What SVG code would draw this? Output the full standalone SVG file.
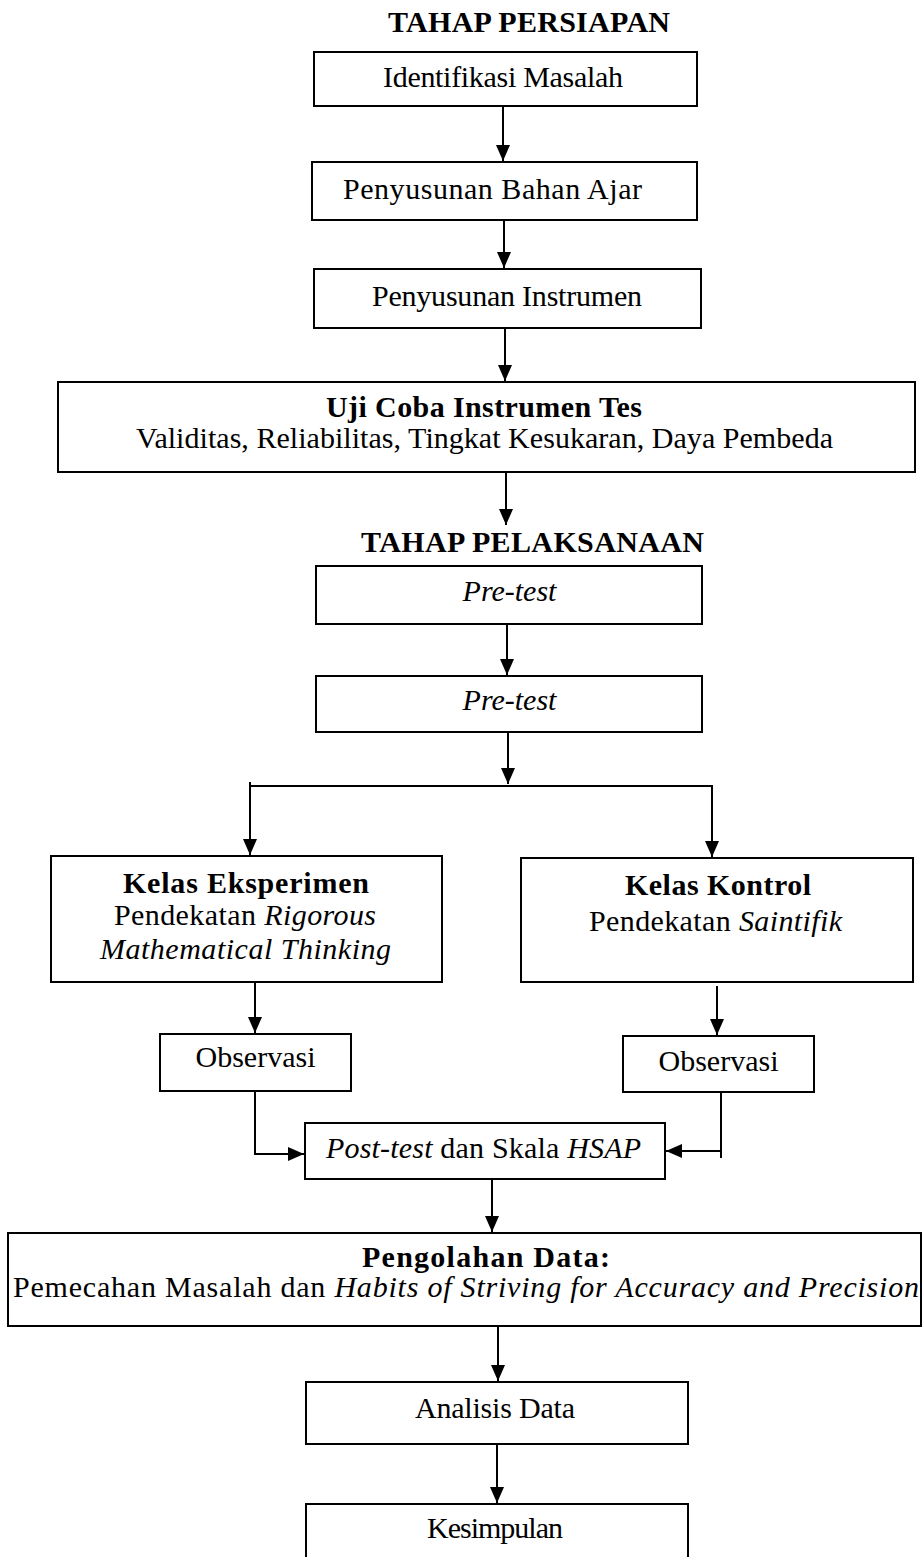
<svg xmlns="http://www.w3.org/2000/svg" width="924" height="1557" viewBox="0 0 924 1557">
<style>
  text { font-family: "Liberation Serif", "Times New Roman", serif; font-size: 30px; fill: #000; text-anchor: middle; }
  .b { font-weight: bold; }
  .i { font-style: italic; }
  .box { fill: #fff; stroke: #000; stroke-width: 2; }
  .con { fill: none; stroke: #000; stroke-width: 2; }
</style>
<defs>
  <marker id="ah" markerUnits="userSpaceOnUse" markerWidth="16" markerHeight="14" refX="16" refY="7" orient="auto">
    <path d="M0,0 L16,7 L0,14 z" fill="#000"/>
  </marker>
</defs>
<rect width="924" height="1557" fill="#fff"/>

<g id="title1"><text class="b" x="529" y="32" textLength="282">TAHAP PERSIAPAN</text></g>
<g id="n1"><rect class="box" x="314" y="52" width="383" height="54"/><text x="503" y="87" textLength="240">Identifikasi Masalah</text></g>
<g id="n2"><rect class="box" x="312" y="162" width="385" height="58"/><text x="492.5" y="199" textLength="299">Penyusunan Bahan Ajar</text></g>
<g id="n3"><rect class="box" x="314" y="269" width="387" height="59"/><text x="507" y="306" textLength="270">Penyusunan Instrumen</text></g>
<g id="n4"><rect class="box" x="58" y="382" width="857" height="90"/>
  <text class="b" x="484" y="417" textLength="316">Uji Coba Instrumen Tes</text>
  <text x="484.5" y="448" textLength="697">Validitas, Reliabilitas, Tingkat Kesukaran, Daya Pembeda</text></g>
<g id="title2"><text class="b" x="532.5" y="552" textLength="343">TAHAP PELAKSANAAN</text></g>
<g id="n5"><rect class="box" x="316" y="566" width="386" height="58"/><text class="i" x="509.5" y="601">Pre-test</text></g>
<g id="n6"><rect class="box" x="316" y="676" width="386" height="56"/><text class="i" x="509.5" y="710">Pre-test</text></g>
<g id="n7"><rect class="box" x="51" y="856" width="391" height="126"/>
  <text class="b" x="246" y="893" textLength="246">Kelas Eksperimen</text>
  <text x="245" y="925" textLength="262">Pendekatan <tspan class="i">Rigorous</tspan></text>
  <text class="i" x="245.5" y="959" textLength="291">Mathematical Thinking</text></g>
<g id="n8"><rect class="box" x="521" y="858" width="392" height="124"/>
  <text class="b" x="718" y="895" textLength="186">Kelas Kontrol</text>
  <text x="715.5" y="931" textLength="253">Pendekatan <tspan class="i">Saintifik</tspan></text></g>
<g id="n9"><rect class="box" x="160" y="1034" width="191" height="57"/><text x="255.5" y="1067">Observasi</text></g>
<g id="n10"><rect class="box" x="623" y="1036" width="191" height="56"/><text x="718.5" y="1071">Observasi</text></g>
<g id="n11"><rect class="box" x="305" y="1123" width="360" height="56"/>
  <text x="483.5" y="1158" textLength="315"><tspan class="i">Post-test</tspan> dan Skala <tspan class="i">HSAP</tspan></text></g>
<g id="n12"><rect class="box" x="8" y="1233" width="913" height="93"/>
  <text class="b" x="486" y="1267" textLength="248">Pengolahan Data:</text>
  <text x="466" y="1297" textLength="906">Pemecahan Masalah dan <tspan class="i">Habits of Striving for Accuracy and Precision</tspan></text></g>
<g id="n13"><rect class="box" x="306" y="1382" width="382" height="62"/><text x="495" y="1418" textLength="160">Analisis Data</text></g>
<g id="n14"><rect class="box" x="306" y="1504" width="382" height="70"/><text x="495" y="1538" textLength="136">Kesimpulan</text></g>

<g id="connectors">
  <line class="con" x1="503" y1="106" x2="503" y2="161" marker-end="url(#ah)"/>
  <line class="con" x1="504" y1="220" x2="504" y2="268" marker-end="url(#ah)"/>
  <line class="con" x1="505" y1="328" x2="505" y2="381" marker-end="url(#ah)"/>
  <line class="con" x1="506" y1="472" x2="506" y2="525" marker-end="url(#ah)"/>
  <line class="con" x1="507" y1="624" x2="507" y2="675" marker-end="url(#ah)"/>
  <line class="con" x1="508" y1="732" x2="508" y2="784" marker-end="url(#ah)"/>
  <line class="con" x1="250" y1="786" x2="712" y2="786"/>
  <line class="con" x1="250" y1="782" x2="250" y2="855" marker-end="url(#ah)"/>
  <line class="con" x1="712" y1="785" x2="712" y2="857" marker-end="url(#ah)"/>
  <line class="con" x1="255" y1="982" x2="255" y2="1033" marker-end="url(#ah)"/>
  <line class="con" x1="717" y1="986" x2="717" y2="1035" marker-end="url(#ah)"/>
  <path class="con" d="M255,1091 V1154 H304" marker-end="url(#ah)"/>
  <line class="con" x1="721" y1="1092" x2="721" y2="1158"/>
  <line class="con" x1="721" y1="1151" x2="666" y2="1151" marker-end="url(#ah)"/>
  <line class="con" x1="492" y1="1179" x2="492" y2="1232" marker-end="url(#ah)"/>
  <line class="con" x1="498" y1="1326" x2="498" y2="1381" marker-end="url(#ah)"/>
  <line class="con" x1="497" y1="1444" x2="497" y2="1503" marker-end="url(#ah)"/>
</g>
</svg>
